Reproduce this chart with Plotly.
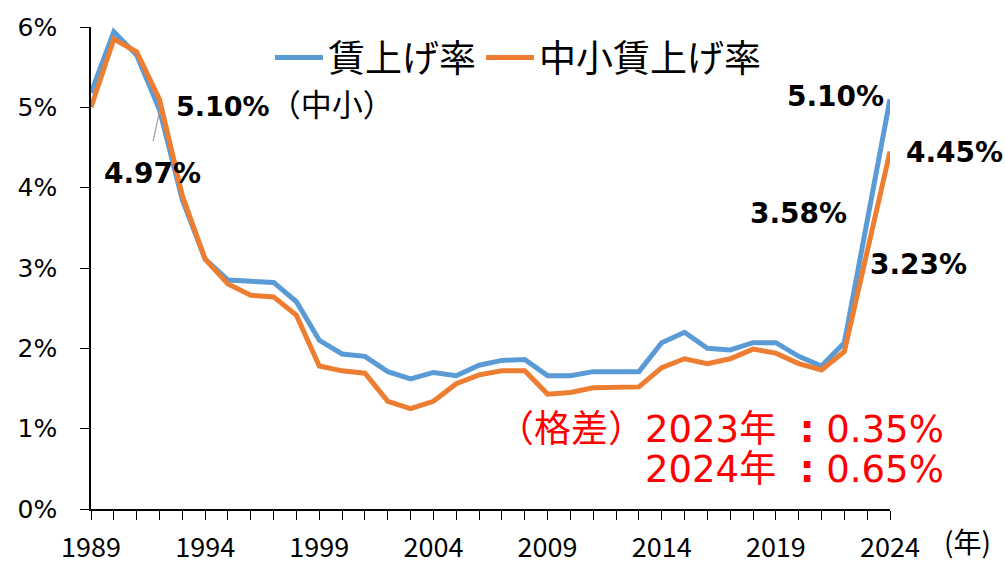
import plotly.graph_objects as go

years = list(range(1989, 2025))
wage_all = [5.18, 5.94, 5.65, 4.97, 3.85, 3.11, 2.85, 2.84, 2.82, 2.58, 2.10, 1.93,
            1.90, 1.71, 1.62, 1.70, 1.66, 1.79, 1.85, 1.86, 1.66, 1.66, 1.71, 1.71,
            1.71, 2.07, 2.20, 2.00, 1.98, 2.07, 2.07, 1.90, 1.78, 2.07, 3.58, 5.10]
wage_sme = [5.00, 5.85, 5.69, 5.10, 3.90, 3.11, 2.80, 2.66, 2.64, 2.41, 1.78, 1.72,
            1.69, 1.34, 1.25, 1.34, 1.56, 1.67, 1.72, 1.72, 1.43, 1.45, 1.51, 1.51,
            1.52, 1.76, 1.87, 1.81, 1.87, 1.99, 1.94, 1.81, 1.73, 1.96, 3.23, 4.45]
tick_years = [1989, 1994, 1999, 2004, 2009, 2014, 2019, 2024]
series_names = ["賃上げ率", "中小賃上げ率"]

BLUE = "#5B9BD5"
ORANGE = "#ED7D31"
JP = "Noto Sans CJK JP"
LAT = "DejaVu Sans, Noto Sans CJK JP"

fig = go.Figure()
fig.add_trace(go.Scatter(x=years, y=wage_all, mode="lines", name=series_names[0],
                         line=dict(color=BLUE, width=5)))
fig.add_trace(go.Scatter(x=years, y=wage_sme, mode="lines", name=series_names[1],
                         line=dict(color=ORANGE, width=5)))

ann = []
def lab(text, x, y, xa, size=28, color="black", font=LAT, xref="x", yref="y", ya="middle"):
    ann.append(dict(text=text, x=x, y=y, xref=xref, yref=yref, xanchor=xa,
                    yanchor=ya, showarrow=False, borderpad=0,
                    font=dict(family=font, size=size, color=color)))

lab("<b>5.10%</b><span style='font-size:31px'>（中小）</span>", 1992.68, 5.03, "left", size=27)
lab("<b>4.97%</b>", 1989.53, 4.18, "left")
lab("<b>5.10%</b>", 2023.78, 5.13, "right")
lab("<b>4.45%</b>", 1.019, 4.44, "left", xref="paper")
lab("<b>3.58%</b>", 2022.16, 3.68, "right")
lab("<b>3.23%</b>", 2023.08, 3.04, "left")
lab("（格差）2023年  <b>:</b> 0.35%", 1.069, 0.164, "right", size=37, color="#FF0000",
    xref="paper", yref="paper")
lab("2024年  <b>:</b> 0.65%", 1.069, 0.081, "right", size=37, color="#FF0000",
    xref="paper", yref="paper")
lab("(年)", 1.066, -0.110, "left", size=28, font=JP, xref="paper", yref="paper", ya="bottom")

fig.add_shape(type="line", x0=1991.72, y0=4.58, x1=1992.0, y1=4.95,
              line=dict(color="#A0A0A0", width=1.2))

fig.update_layout(
    width=1005, height=564,
    margin=dict(l=91, r=115, t=27, b=55),
    paper_bgcolor="white", plot_bgcolor="white",
    annotations=ann,
    legend=dict(orientation="h", x=0.224, y=0.936, xanchor="left", yanchor="middle",
                font=dict(family=JP, size=37, color="black"),
                bgcolor="rgba(0,0,0,0)", itemwidth=48, tracegroupgap=0),
    xaxis=dict(range=[1989, 2024], tickmode="array", tickvals=tick_years,
               ticktext=[str(y) for y in tick_years],
               showline=True, linecolor="black", linewidth=1.5,
               ticks="outside", ticklen=9, tickcolor="black", tickwidth=1.2,
               minor=dict(dtick=1, tick0=1989, ticks="outside", ticklen=9,
                          tickcolor="black", tickwidth=1.2),
               showgrid=False, zeroline=False, ticklabelstandoff=5, automargin=False,
               tickfont=dict(family=JP, size=27, color="black")),
    yaxis=dict(range=[0, 6], dtick=1, ticksuffix="%",
               showline=True, linecolor="black", linewidth=1.5,
               ticks="outside", ticklen=9, tickcolor="black", tickwidth=1.2,
               showgrid=False, zeroline=False, ticklabelstandoff=18, automargin=False,
               tickfont=dict(family="DejaVu Sans", size=25, color="black")),
)

fig.write_html("out.html", config={"displayModeBar": False},
               post_script="document.body.style.margin='0';document.body.style.overflow='hidden';")
